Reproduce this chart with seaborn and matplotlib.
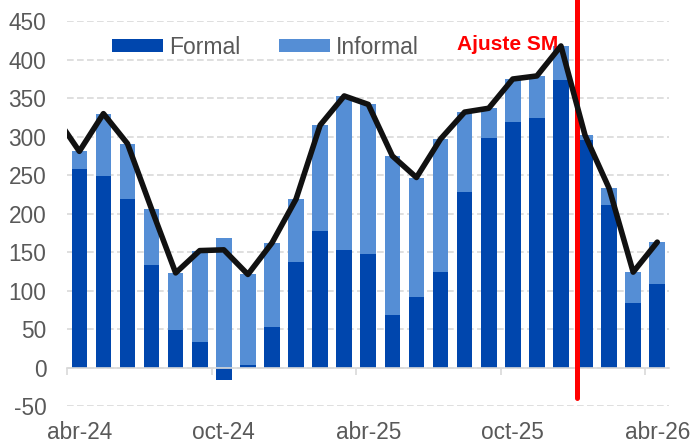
import matplotlib
matplotlib.use('Agg')
import matplotlib.pyplot as plt
import seaborn as sns
import numpy as np
import pandas as pd


MONTHS = ['abr-24', 'may-24', 'jun-24', 'jul-24', 'ago-24', 'sep-24', 'oct-24', 'nov-24',
          'dic-24', 'ene-25', 'feb-25', 'mar-25', 'abr-25', 'may-25', 'jun-25', 'jul-25',
          'ago-25', 'sep-25', 'oct-25', 'nov-25', 'dic-25', 'ene-26', 'feb-26', 'mar-26',
          'abr-26']
FORMAL = [258, 249, 219, 133, 49, 33, -16, 3, 53, 137, 178, 153, 148, 68, 92, 124,
          228, 298, 319, 324, 374, 296, 211, 84, 109]
INFORMAL = [23, 81, 72, 73, 74, 119, 169, 118, 109, 82, 137, 200, 194, 207, 155, 173,
            104, 39, 56, 55, 44, 6, 22, 40, 54]
# total line starts one month earlier (mar-24), clipped at the axis edge
TOTAL = [327, 281, 330, 291, 206, 123, 152, 153, 121, 162, 219, 315, 353, 342, 275, 247,
         297, 332, 337, 375, 379, 418, 302, 233, 124, 163]
LABEL_MONTHS = ['abr-24', 'oct-24', 'abr-25', 'oct-25', 'abr-26']

DARK = '#0046AD'
LIGHT = '#558ED5'
GRAY = '#595959'
GRID = '#D9D9D9'

sns.set_theme(style='white')
plt.rcParams['font.family'] = ['Liberation Sans', 'DejaVu Sans']
plt.rcParams['axes.unicode_minus'] = False

df = pd.DataFrame({'month': MONTHS, 'formal': FORMAL, 'informal': INFORMAL})
df['upper'] = df['formal'].clip(lower=0) + df['informal']
line_df = pd.DataFrame({'pos': np.arange(-1, len(MONTHS)), 'total': TOTAL})

fig = plt.figure(figsize=(6.93, 4.45), dpi=100)
ax = fig.add_axes([0.0971, 0.0876, 0.8687, 0.8645])

sns.barplot(data=df, x='month', y='upper', order=MONTHS, color=LIGHT, width=0.65,
            linewidth=0, saturation=1, label='Informal', ax=ax, zorder=2)
sns.barplot(data=df, x='month', y='formal', order=MONTHS, color=DARK, width=0.65,
            linewidth=0, saturation=1, label='Formal', ax=ax, zorder=2)

ax.axvline(20.68, ymin=0.02, ymax=1.2, color='#FF0000', lw=3.6, clip_on=False, zorder=3)
sns.lineplot(data=line_df, x='pos', y='total', color='#111111', lw=4, ax=ax, zorder=4)

ax.set_xlim(-0.5, len(MONTHS) - 0.5)
ax.set_ylim(-50, 450)
ax.set_yticks(np.arange(-50, 451, 50))
ax.yaxis.grid(True, color=GRID, lw=1.2, linestyle=(0, (4, 2)))
ax.set_axisbelow(True)
ax.tick_params(axis='y', length=0, pad=15, labelsize=16.3, labelcolor=GRAY)

for s in ['top', 'right', 'left']:
    ax.spines[s].set_visible(False)
ax.spines['bottom'].set_position(('data', 0))
ax.spines['bottom'].set_color(GRID)
ax.spines['bottom'].set_linewidth(1.2)
ax.set_xticks(np.arange(-0.5, len(MONTHS), 6))
ax.set_xticklabels([])
ax.tick_params(axis='x', bottom=True, direction='out', length=5, width=1.2, color=GRID)
ax.set_xlabel('')
ax.set_ylabel('')

sec = ax.secondary_xaxis('bottom')
sec.set_xticks([MONTHS.index(m) for m in LABEL_MONTHS], labels=LABEL_MONTHS)
sec.tick_params(length=0, pad=11, labelsize=16.3, labelcolor=GRAY)
sec.spines['bottom'].set_visible(False)

ax.text(19.9, 413, 'Ajuste SM', color='#FF0000', fontsize=15, fontweight='bold',
        ha='right', va='baseline')

handles, labels = ax.get_legend_handles_labels()
order = [labels.index('Formal'), labels.index('Informal')]
leg = ax.legend([handles[i] for i in order], [labels[i] for i in order], ncol=2,
                frameon=False, fontsize=16.5, labelcolor=GRAY, loc='center left',
                bbox_to_anchor=(112 / 693, 1 - 47.5 / 445), bbox_transform=fig.transFigure,
                borderpad=0, borderaxespad=0, handlelength=2.23, handleheight=0.48,
                handletextpad=0.27, columnspacing=1.66)

fig.savefig('out.png', dpi=100)
